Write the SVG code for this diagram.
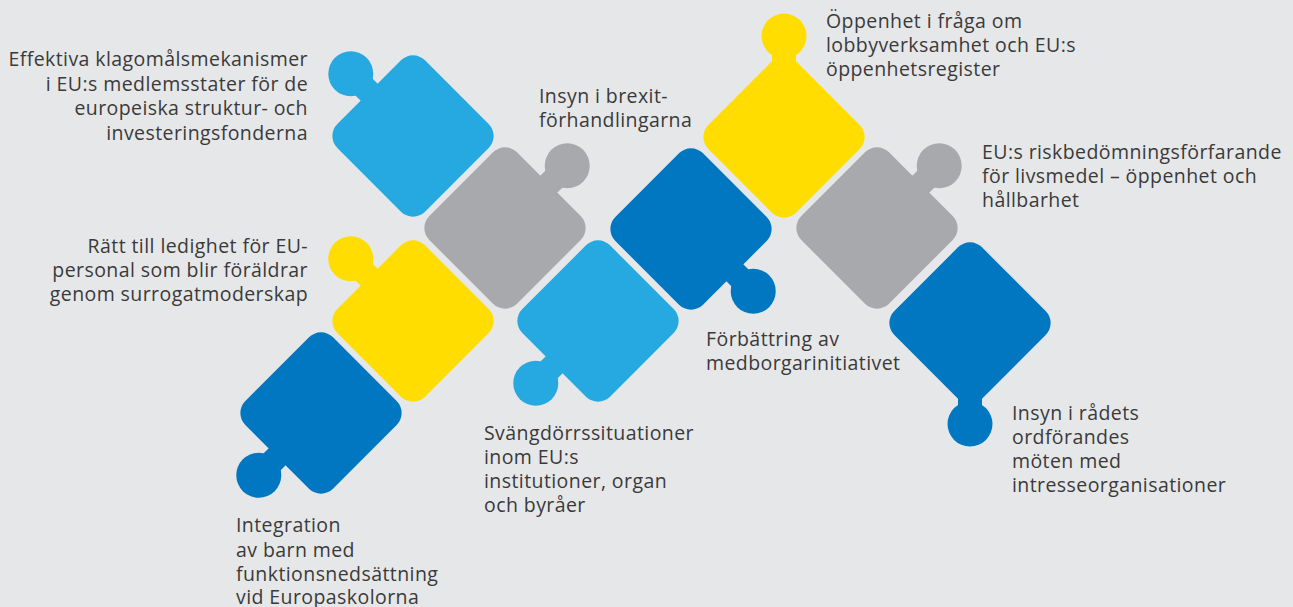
<svg xmlns="http://www.w3.org/2000/svg" width="1293" height="607" viewBox="0 0 1293 607">
  <style>
    .lb { fill: #26a9e0; }
    .gr { fill: #a7a9ac; }
    .ye { fill: #ffdd00; }
    .db { fill: #0077c0; }
    .t { font-family: "Open Sans", "Noto Sans", "Liberation Sans", sans-serif; font-size: 19.5px; letter-spacing: 0.42px; fill: #3a3a3a; }
    .r { text-anchor: end; }
  </style>
  <defs>
    <!-- square rotated 45deg, knob on a side (local up) -->
    <g id="sideKnob">
      <rect x="-62" y="-62" width="124" height="124" rx="17" ry="17"/>
      <rect x="-12" y="-74" width="24" height="16"/>
      <circle cx="0" cy="-88" r="22.5"/>
    </g>
    <!-- diamond with knob on its top corner -->
    <g id="cornerKnob">
      <rect x="-62" y="-62" width="124" height="124" rx="17" ry="17" transform="rotate(45)"/>
      <rect x="-12" y="-86" width="24" height="14"/>
      <circle cx="0" cy="-101" r="22.5"/>
    </g>
  </defs>
  <rect x="0" y="0" width="1293" height="607" fill="#e6e7e8"/>

  <g id="piece-klagomal" class="lb">
    <use href="#sideKnob" transform="translate(413,136) rotate(-45)"/>
  </g>
  <g id="piece-brexit" class="gr">
    <use href="#sideKnob" transform="translate(505,228) rotate(45)"/>
  </g>
  <g id="piece-ledighet" class="ye">
    <use href="#sideKnob" transform="translate(413,321) rotate(-45)"/>
  </g>
  <g id="piece-integration" class="db">
    <use href="#sideKnob" transform="translate(321,413) rotate(-135)"/>
  </g>
  <g id="piece-svangdorr" class="lb">
    <use href="#sideKnob" transform="translate(598,321) rotate(-135)"/>
  </g>
  <g id="piece-medborgar" class="db">
    <use href="#sideKnob" transform="translate(691,229) rotate(135)"/>
  </g>
  <g id="piece-oppenhet" class="ye">
    <use href="#cornerKnob" transform="translate(784,137)"/>
  </g>
  <g id="piece-risk" class="gr">
    <use href="#sideKnob" transform="translate(877,228) rotate(45)"/>
  </g>
  <g id="piece-radet" class="db">
    <use href="#cornerKnob" transform="translate(970,323) rotate(180)"/>
  </g>

  <g id="connectors"></g>

  <g id="labels">
    <text class="t r" x="308" y="66">Effektiva klagomålsmekanismer</text>
    <text class="t r" x="308" y="90.5">i EU:s medlemsstater för de</text>
    <text class="t r" x="308" y="115">europeiska struktur- och</text>
    <text class="t r" x="308" y="139.5">investeringsfonderna</text>

    <text class="t r" x="308" y="253">Rätt till ledighet för EU-</text>
    <text class="t r" x="308" y="277">personal som blir föräldrar</text>
    <text class="t r" x="308" y="301">genom surrogatmoderskap</text>

    <text class="t" x="539" y="103">Insyn i brexit-</text>
    <text class="t" x="539" y="127">förhandlingarna</text>

    <text class="t" x="826" y="28">Öppenhet i fråga om</text>
    <text class="t" x="826" y="52">lobbyverksamhet och EU:s</text>
    <text class="t" x="826" y="76">öppenhetsregister</text>

    <text class="t" x="982" y="159">EU:s riskbedömningsförfarande</text>
    <text class="t" x="982" y="183">för livsmedel – öppenhet och</text>
    <text class="t" x="982" y="207">hållbarhet</text>

    <text class="t" x="706" y="346">Förbättring av</text>
    <text class="t" x="706" y="370">medborgarinitiativet</text>

    <text class="t" x="1012" y="420">Insyn i rådets</text>
    <text class="t" x="1012" y="444">ordförandes</text>
    <text class="t" x="1012" y="468">möten med</text>
    <text class="t" x="1012" y="492">intresseorganisationer</text>

    <text class="t" x="484" y="440">Svängdörrssituationer</text>
    <text class="t" x="484" y="464">inom EU:s</text>
    <text class="t" x="484" y="488">institutioner, organ</text>
    <text class="t" x="484" y="512">och byråer</text>

    <text class="t" x="236" y="532">Integration</text>
    <text class="t" x="236" y="557">av barn med</text>
    <text class="t" x="236" y="581">funktionsnedsättning</text>
    <text class="t" x="236" y="604">vid Europaskolorna</text>
  </g>
</svg>
